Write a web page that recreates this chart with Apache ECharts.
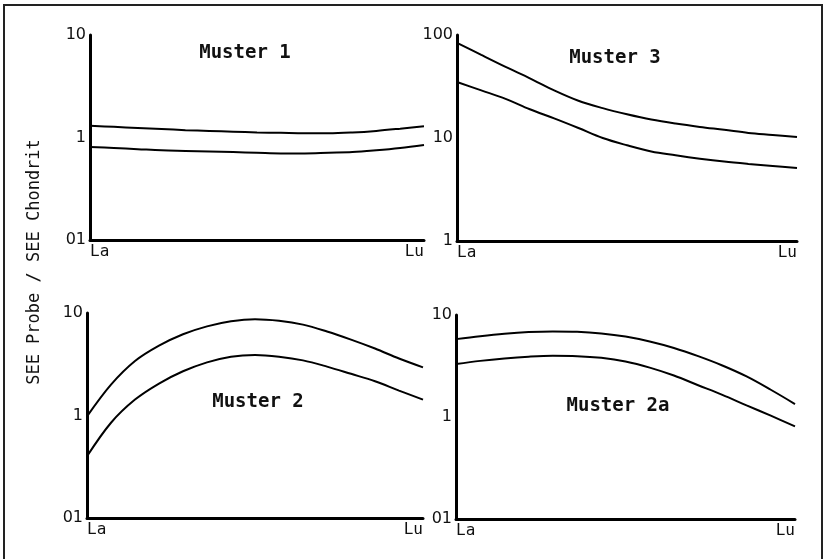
<!DOCTYPE html>
<html><head><meta charset="utf-8">
<script src="https://cdn.jsdelivr.net/npm/echarts@6/dist/echarts.min.js"></script>
<style>html,body{margin:0;padding:0;background:#fff}#c{width:825px;height:559px}</style>
</head><body><div id="c"></div>
<script>
// Rare earth elements La..Lu (x axis positions are indices into this list)
const ree = ['La','Ce','Pr','Nd','Pm','Sm','Eu','Gd','Tb','Dy','Ho','Er','Tm','Yb','Lu'];

const titles = ['Muster 1', 'Muster 3', 'Muster 2', 'Muster 2a'];
const yTickLabelsLow = ['01', '1', '10'];     // 0.1, 1, 10
const yTickLabelsHigh = ['1', '10', '100'];   // 1, 10, 100
const yTitle = 'SEE Probe / SEE Chondrit';

const muster1Upper = [1.30,1.27,1.24,1.21,1.18,1.16,1.14,1.12,1.11,1.10,1.10,1.12,1.16,1.22,1.29];
const muster1Lower = [0.81,0.79,0.77,0.75,0.74,0.73,0.72,0.71,0.70,0.70,0.71,0.72,0.75,0.79,0.845];
const muster3Upper = [84,64,49,38,29,23,19.5,17,15.1,13.8,12.8,12.0,11.2,10.7,10.2];
const muster3Lower = [35,29,24,19,15.5,12.5,10,8.5,7.4,6.8,6.3,5.9,5.6,5.35,5.1];
const muster2Upper = [0.98,2.0,3.4,4.8,6.2,7.4,8.3,8.7,8.4,7.7,6.6,5.5,4.5,3.6,2.95];
const muster2Lower = [0.40,0.85,1.43,2.05,2.7,3.3,3.75,3.9,3.75,3.45,3.0,2.55,2.16,1.75,1.43];
const muster2aUpper = [5.8,6.2,6.55,6.8,6.9,6.85,6.6,6.15,5.5,4.75,3.95,3.2,2.5,1.85,1.34];
const muster2aLower = [3.3,3.55,3.75,3.9,3.98,3.95,3.8,3.5,3.05,2.55,2.05,1.65,1.3,1.03,0.81];

const panels = [
  {grid:{left:90, top:35, width:334, height:205}, ymin:0.1, ymax:10, labels:yTickLabelsLow, lines:[muster1Upper, muster1Lower], title:{x:245, y:53}},
  {grid:{left:457, top:35, width:340, height:206}, ymin:1, ymax:100, labels:yTickLabelsHigh, lines:[muster3Upper, muster3Lower], title:{x:615, y:58}},
  {grid:{left:87, top:313, width:336, height:205}, ymin:0.1, ymax:10, labels:yTickLabelsLow, lines:[muster2Upper, muster2Lower], title:{x:258, y:402}},
  {grid:{left:456, top:315, width:339, height:204}, ymin:0.1, ymax:10, labels:yTickLabelsLow, lines:[muster2aUpper, muster2aLower], title:{x:618, y:406}}
];

const grids = [], xAxes = [], yAxes = [], series = [], graphics = [];
panels.forEach((p, i) => {
  grids.push(p.grid);
  xAxes.push({
    type:'value', gridIndex:i, min:0, max:ree.length-1, interval:ree.length-1,
    axisLine:{lineStyle:{color:'#000', width:3}},
    axisTick:{show:false}, splitLine:{show:false},
    axisLabel:{margin:4, color:'#111', fontFamily:'DejaVu Sans Mono', fontSize:16,
      alignMinLabel:'left', alignMaxLabel:'right',
      formatter:v => ree[Math.round(v)]}
  });
  const base = Math.log10(p.ymin);
  yAxes.push({
    type:'log', logBase:10, gridIndex:i, min:p.ymin, max:p.ymax,
    axisLine:{show:true, lineStyle:{color:'#000', width:3}},
    axisTick:{show:false}, splitLine:{show:false},
    axisLabel:{margin:4, color:'#111', fontFamily:'DejaVu Sans', fontSize:16,
      formatter:v => p.labels[Math.round(Math.log10(v) - base)]}
  });
  p.lines.forEach(vals => {
    series.push({
      type:'line', xAxisIndex:i, yAxisIndex:i, smooth:0.35, symbol:'none',
      lineStyle:{color:'#000', width:2}, silent:true,
      data: vals.map((v, k) => [k, v])
    });
  });
  graphics.push({type:'text', x:p.title.x, y:p.title.y, silent:true,
    style:{text:titles[i], fontFamily:'DejaVu Sans Mono', fontWeight:'bold', fontSize:19, fill:'#111', align:'center', verticalAlign:'middle'}});
});

graphics.push({type:'rect', shape:{x:4, y:5, width:818, height:570}, style:{fill:null, stroke:'#222', lineWidth:2}, silent:true});
graphics.push({type:'text', x:35, y:262, rotation:Math.PI/2, silent:true, style:{text:yTitle, fontFamily:'DejaVu Sans Mono', fontSize:17, fill:'#111', align:'center', verticalAlign:'middle'}});

const chart = echarts.init(document.getElementById('c'), null, {renderer:'canvas'});
chart.setOption({
  animation:false,
  backgroundColor:'#fff',
  grid: grids, xAxis: xAxes, yAxis: yAxes, series: series,
  graphic: graphics
});
</script></body></html>
